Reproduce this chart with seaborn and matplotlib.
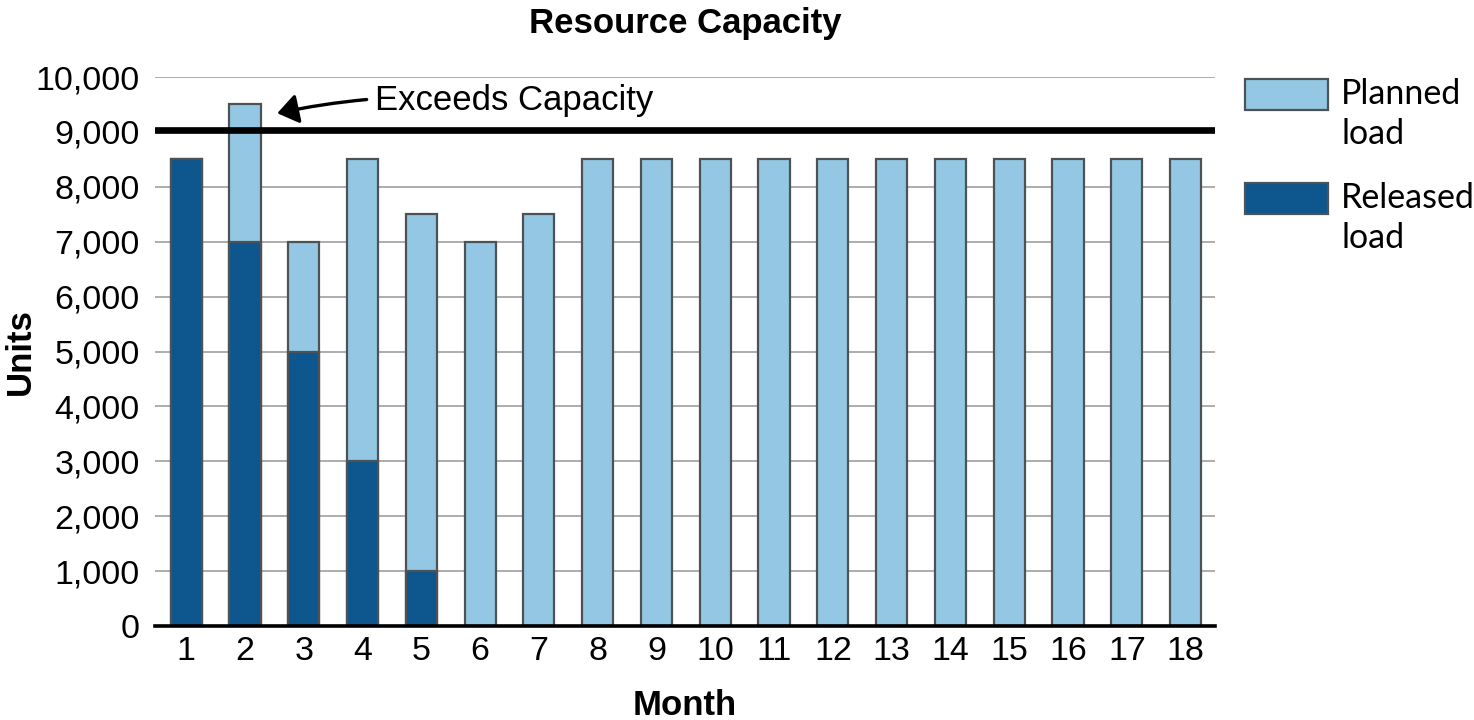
import matplotlib
matplotlib.use("Agg")
import matplotlib.pyplot as plt
from matplotlib.patches import Rectangle
from matplotlib.legend_handler import HandlerPatch
from matplotlib.ticker import FuncFormatter
import numpy as np
import pandas as pd
import seaborn as sns

months = [str(m) for m in range(1, 19)]
released_load = [8500, 7000, 5000, 3000, 1000, 0, 0, 0, 0, 0, 0, 0, 0, 0, 0, 0, 0, 0]
planned_load = [0, 2500, 2000, 5500, 6500, 7000, 7500, 8500, 8500, 8500,
                8500, 8500, 8500, 8500, 8500, 8500, 8500, 8500]
capacity = 9040
y_ticks = list(range(0, 10001, 1000))

LIGHT = "#93c7e3"
DARK = "#0e568e"
EDGE = "#4d5257"

sns.set_theme(style="white")
plt.rcParams["font.family"] = ["Liberation Sans", "DejaVu Sans"]
plt.rcParams["text.color"] = "black"
plt.rcParams["axes.labelcolor"] = "black"

df = pd.DataFrame({
    "Month": months,
    "Released": released_load,
    "Planned": planned_load,
})
df["Total"] = df["Released"] + df["Planned"]

fig = plt.figure(figsize=(14.74, 7.2), dpi=100)
ax = fig.add_axes([155 / 1474, 1 - 626 / 720, (1215 - 155) / 1474, (626 - 77) / 720])

# Stacked bars: full load (planned on top) first, released portion over it
sns.barplot(data=df, x="Month", y="Total", order=months, color=LIGHT,
            width=0.53, edgecolor=EDGE, linewidth=1.6, saturation=1, ax=ax, zorder=2)
sns.barplot(data=df, x="Month", y="Released", order=months, color=DARK,
            width=0.53, edgecolor=EDGE, linewidth=1.6, saturation=1, ax=ax, zorder=2)

ax.set_xlim(-0.53, len(months) - 1 + 0.50)
ax.set_ylim(0, 10000)
ax.set_yticks(y_ticks)
ax.yaxis.set_major_formatter(FuncFormatter(lambda v, p: f"{int(v):,}"))
ax.grid(axis="y", color="#a0a0a0", linewidth=1.2, zorder=0)
ax.grid(axis="x", visible=False)
ax.set_axisbelow(True)

for side in ["left", "right", "top"]:
    ax.spines[side].set_visible(False)
ax.spines["bottom"].set_color("black")
ax.spines["bottom"].set_linewidth(2.6)
ax.spines["bottom"].set_zorder(5)

ax.tick_params(axis="both", length=0, labelsize=24.5, colors="black")
ax.tick_params(axis="y", pad=11)
ax.tick_params(axis="x", pad=7)

# Capacity limit
ax.axhline(capacity, color="black", linewidth=4.8, zorder=4)

ax.annotate("Exceeds Capacity", xy=(1.55, 9340), xytext=(3.22, 9570),
            fontsize=25, color="black", va="center", ha="left",
            arrowprops=dict(arrowstyle="-|>,head_length=0.5,head_width=0.36",
                            color="black", lw=2.4, shrinkA=4, shrinkB=0,
                            connectionstyle="arc3,rad=0.08"))

ax.set_title("Resource Capacity", fontsize=25, fontweight="bold", pad=32, color="black")
ax.set_xlabel("Month", fontsize=25, fontweight="bold", labelpad=16, color="black")
ax.set_ylabel("Units", fontsize=25, fontweight="bold", color="black")
ax.yaxis.set_label_coords(-0.111, 0.5)


class TopAlignedPatch(HandlerPatch):
    def __init__(self, shift, **kw):
        super().__init__(**kw)
        self.shift = shift

    def create_artists(self, legend, orig_handle, xdescent, ydescent, width,
                       height, fontsize, trans):
        p = Rectangle((-xdescent, -ydescent + self.shift), width, height)
        self.update_prop(p, orig_handle, legend)
        p.set_transform(trans)
        return [p]


h_planned = Rectangle((0, 0), 1, 1, facecolor=LIGHT, edgecolor=EDGE, linewidth=1.6)
h_released = Rectangle((0, 0), 1, 1, facecolor=DARK, edgecolor=EDGE, linewidth=1.6)
handler = TopAlignedPatch(shift=15)
leg = fig.legend([h_planned, h_released], ["Planned\nload", "Released\nload"],
                 loc="upper left", bbox_to_anchor=(1245 / 1474, 1 - 78 / 720),
                 frameon=False, borderpad=0, borderaxespad=0,
                 handlelength=2.45, handleheight=1.05, handletextpad=0.38,
                 labelspacing=0.95,
                 prop={"family": ["Lato", "DejaVu Sans"], "size": 24.5},
                 handler_map={Rectangle: handler})
for t in leg.get_texts():
    t.set_linespacing(1.3)
    t.set_color("black")

fig.savefig("out.png", dpi=100)
